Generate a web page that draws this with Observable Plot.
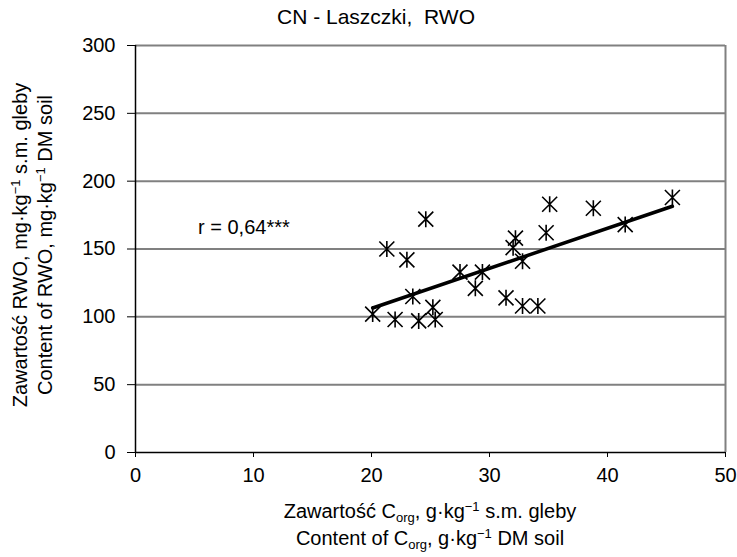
<!DOCTYPE html>
<html><head><meta charset="utf-8">
<script src="https://cdn.jsdelivr.net/npm/d3@7"></script>
<script src="https://cdn.jsdelivr.net/npm/@observablehq/plot@0.6"></script>
<style>
body{margin:0;background:#fff}
svg{font-family:"Liberation Sans",Arial,sans-serif}
</style>
</head><body><div id="chart"></div>
<script>
// Data
const cOrg = [20.1, 21.3, 22.0, 23.0, 23.5, 24.0, 24.6, 25.2, 25.4, 27.5, 28.8, 29.4, 31.4, 32.0, 32.2, 32.8, 32.8, 34.1, 34.8, 35.1, 38.8, 41.5, 45.5];
const rwo  = [102, 150, 98, 142, 115, 97, 172, 107, 98, 133, 121, 133, 114, 151, 158, 141, 108, 108, 162, 183, 180, 168, 188];
const trendX = [20.1, 45.5];
const trendY = [106.5, 181.5];
const xTicks = [0, 10, 20, 30, 40, 50];
const yTicks = [0, 50, 100, 150, 200, 250, 300];
const noteText = ["r = 0,64***"];
const noteX = [5.3];
const noteY = [166];
const titleText = "CN - Laszczki,  RWO";

const points = cOrg.map((x, i) => ({x, y: rwo[i]}));
const trend = trendX.map((x, i) => ({x, y: trendY[i]}));
const notes = noteText.map((t, i) => ({t, x: noteX[i], y: noteY[i]}));

const star = {
  draw(ctx, size) {
    const a = 8, b = 7.5;
    ctx.moveTo(0, -a); ctx.lineTo(0, a);
    ctx.moveTo(-b, -b); ctx.lineTo(b, b);
    ctx.moveTo(-b, b); ctx.lineTo(b, -b);
  }
};

const W = 737, H = 557;
const chart = Plot.plot({
  width: W, height: H,
  marginLeft: 135, marginRight: 12, marginTop: 45, marginBottom: 105,
  style: {fontFamily: "Liberation Sans, Arial, sans-serif", fontSize: "20px", background: "#fff", color: "#000"},
  x: {domain: [0, 50]},
  y: {domain: [0, 300]},
  marks: [
    Plot.ruleY(yTicks.filter(d => d > 0), {stroke: "#808080", strokeWidth: 2}),
    Plot.ruleX([50], {stroke: "#808080", strokeWidth: 2}),
    Plot.axisX({ticks: xTicks, tickSize: 5, tickPadding: 10, label: null, tickFormat: d => d}),
    Plot.axisY({ticks: yTicks, tickSize: 8, tickPadding: 12, label: null, tickFormat: d => d}),
    Plot.ruleX([0], {stroke: "#000", strokeWidth: 1.5}),
    Plot.ruleY([0], {stroke: "#000", strokeWidth: 1.5}),
    Plot.text(notes, {x: "x", y: "y", text: "t", textAnchor: "start", fontSize: 20}),
    Plot.dot(points, {x: "x", y: "y", symbol: star, stroke: "#000", strokeWidth: 1.6, r: 8}),
    Plot.line(trend, {x: "x", y: "y", stroke: "#000", strokeWidth: 3.5})
  ]
});
document.getElementById("chart").appendChild(chart);

const svg = d3.select(chart);
const cx = (135 + (W - 12)) / 2;
svg.append("text").attr("x", 376).attr("y", 24).attr("text-anchor", "middle")
  .attr("font-size", 21).attr("fill", "#000").text(titleText);

function addLabel(g, parts) {
  parts.forEach(p => {
    const t = g.append("tspan").text(p.t);
    if (p.sub) t.attr("baseline-shift", "-4px").attr("font-size", 13);
    if (p.sup) t.attr("baseline-shift", "7px").attr("font-size", 13);
  });
}
const xl1 = svg.append("text").attr("x", cx).attr("y", 518).attr("text-anchor", "middle").attr("font-size", 20).attr("fill", "#000");
addLabel(xl1, [{t: "Zawartość C"}, {t: "org", sub: true}, {t: ", g·kg"}, {t: "−1", sup: true}, {t: " s.m. gleby"}]);
const xl2 = svg.append("text").attr("x", cx).attr("y", 545).attr("text-anchor", "middle").attr("font-size", 20).attr("fill", "#000");
addLabel(xl2, [{t: "Content of C"}, {t: "org", sub: true}, {t: ", g·kg"}, {t: "−1", sup: true}, {t: " DM soil"}]);

const cy = 245;
const yl1 = svg.append("text").attr("transform", `translate(27,${cy}) rotate(-90)`).attr("text-anchor", "middle").attr("font-size", 20).attr("fill", "#000");
addLabel(yl1, [{t: "Zawartość RWO, mg·kg"}, {t: "−1", sup: true}, {t: " s.m. gleby"}]);
const yl2 = svg.append("text").attr("transform", `translate(52,${cy}) rotate(-90)`).attr("text-anchor", "middle").attr("font-size", 20).attr("fill", "#000");
addLabel(yl2, [{t: "Content of RWO, mg·kg"}, {t: "−1", sup: true}, {t: " DM soil"}]);
</script>
</body></html>
